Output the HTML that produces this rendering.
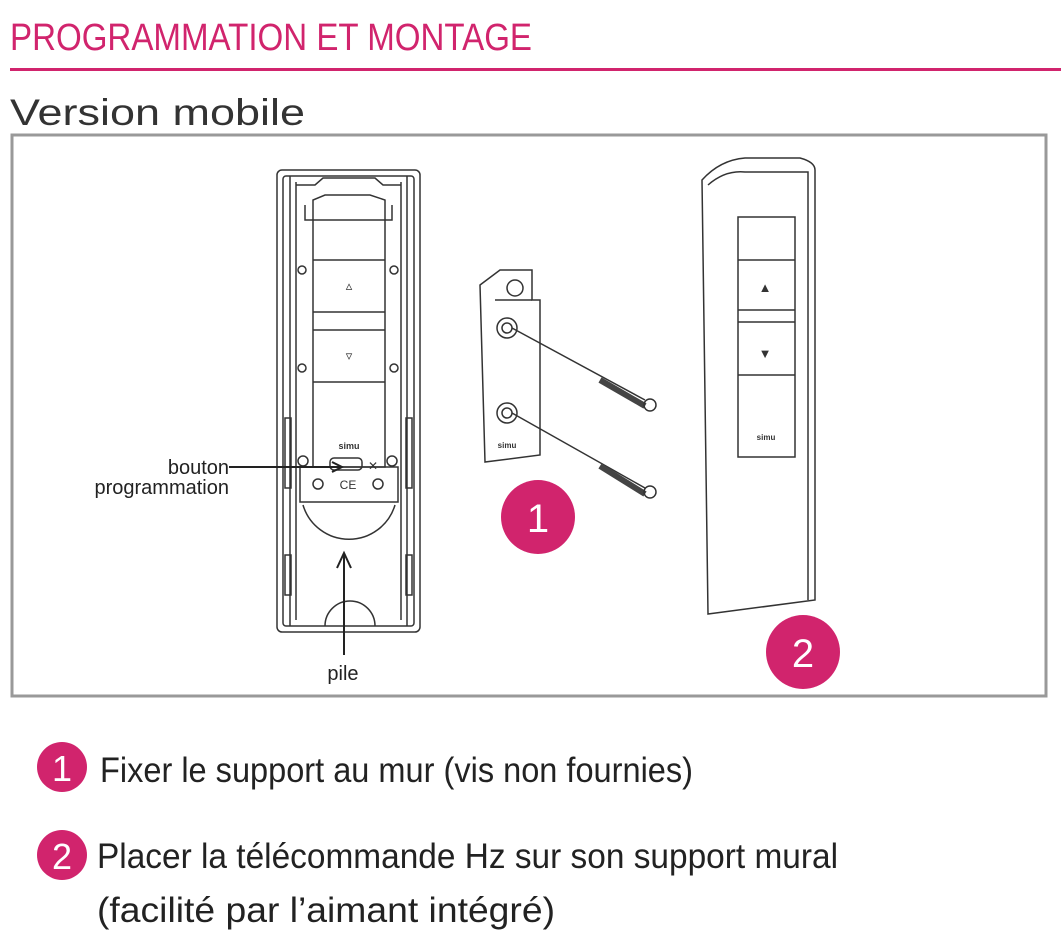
<!DOCTYPE html>
<html><head><meta charset="utf-8"><style>
html,body{margin:0;padding:0;background:#fff;}
svg{display:block;}
text{font-family:"Liberation Sans",sans-serif;}
</style></head><body>
<svg width="1061" height="941" viewBox="0 0 1061 941" xmlns="http://www.w3.org/2000/svg">
<text x="10" y="50" font-size="38" fill="#d1246d" textLength="522" lengthAdjust="spacingAndGlyphs">PROGRAMMATION ET MONTAGE</text>
<rect x="10" y="68" width="1051" height="3" fill="#d1246d"/>
<text x="10" y="125" font-size="37" fill="#333" textLength="295" lengthAdjust="spacingAndGlyphs">Version mobile</text>
<rect x="12" y="135" width="1034" height="561" fill="none" stroke="#999" stroke-width="3"/>

<!-- left remote -->
<g fill="none" stroke="#333" stroke-width="1.5">
<rect x="277" y="170" width="143" height="462" rx="5"/>
<rect x="283" y="176" width="131" height="450" rx="3"/>
<line x1="290" y1="176" x2="290" y2="626"/><line x1="407" y1="176" x2="407" y2="626"/>
<line x1="296" y1="182" x2="296" y2="620"/><line x1="401" y1="182" x2="401" y2="620"/>
<path d="M296 185 L315 185 L323 178 L375 178 L383 185 L401 185"/>
<path d="M305 205 L305 220 L313 220 L313 200 L325 195 L370 195 L385 200 L385 220 L392 220 L392 205"/>
<rect x="313" y="220" width="72" height="247"/>
<line x1="313" y1="260" x2="385" y2="260"/>
<line x1="313" y1="312" x2="385" y2="312"/><line x1="313" y1="330" x2="385" y2="330"/>
<line x1="313" y1="382" x2="385" y2="382"/>
<rect x="300" y="467" width="98" height="35"/>
<path d="M303 505 A48 48 0 0 0 395 505" />
<circle cx="302" cy="270" r="4"/><circle cx="394" cy="270" r="4"/>
<circle cx="302" cy="368" r="4"/><circle cx="394" cy="368" r="4"/>
<circle cx="303" cy="461" r="5"/><circle cx="392" cy="461" r="5"/>
<circle cx="318" cy="484" r="5"/><circle cx="378" cy="484" r="5"/>
<rect x="330" y="458" width="32" height="12" rx="4"/>
<rect x="285" y="418" width="6" height="70"/><rect x="406" y="418" width="6" height="70"/>
<rect x="285" y="555" width="6" height="40"/><rect x="406" y="555" width="6" height="40"/>
<path d="M325 626 A25 25 0 0 1 375 626"/>
</g>
<text x="349" y="290" font-size="13" text-anchor="middle" fill="#333">▵</text>
<text x="349" y="360" font-size="13" text-anchor="middle" fill="#333">▿</text>
<text x="349" y="449" font-size="9" text-anchor="middle" fill="#333" font-weight="bold">simu</text>
<text x="348" y="489" font-size="12" text-anchor="middle" fill="#333">CE</text>
<text x="373" y="470" font-size="12" text-anchor="middle" fill="#333">✕</text>
<!-- labels -->
<text x="229" y="474" font-size="20" text-anchor="end" fill="#222">bouton</text>
<text x="229" y="494" font-size="20" text-anchor="end" fill="#222">programmation</text>
<line x1="229" y1="467" x2="340" y2="467" stroke="#222" stroke-width="2"/>
<path d="M332 462 L342 467 L332 472" fill="none" stroke="#222" stroke-width="2"/>
<line x1="344" y1="655" x2="344" y2="555" stroke="#222" stroke-width="2"/>
<path d="M337 568 L344 553 L351 568" fill="none" stroke="#222" stroke-width="2"/>
<text x="343" y="680" font-size="20" text-anchor="middle" fill="#222">pile</text>

<!-- bracket -->
<g fill="none" stroke="#333" stroke-width="1.5">
<path d="M480 285 L500 270 L532 270 L532 300 L540 300 L540 455 L485 462 Z"/>
<line x1="495" y1="300" x2="532" y2="300"/>
<circle cx="515" cy="288" r="8"/>
<circle cx="507" cy="328" r="10"/><circle cx="507" cy="328" r="5"/>
<circle cx="507" cy="413" r="10"/><circle cx="507" cy="413" r="5"/>
<line x1="512" y1="328" x2="645" y2="400"/>
<line x1="512" y1="413" x2="645" y2="488"/>
<line x1="600" y1="380" x2="645" y2="406" stroke-width="6" stroke="#444"/>
<line x1="600" y1="466" x2="645" y2="494" stroke-width="6" stroke="#444"/>
<circle cx="650" cy="405" r="6"/><circle cx="650" cy="492" r="6"/>
</g>
<text x="507" y="448" font-size="8" text-anchor="middle" fill="#333" font-weight="bold">simu</text>
<circle cx="538" cy="517" r="37" fill="#d1246d"/>
<text x="538" y="532" font-size="40" text-anchor="middle" fill="#fff">1</text>

<!-- right remote -->
<g fill="none" stroke="#333" stroke-width="1.5">
<path d="M702 180 Q720 160 745 158 L800 158 Q815 162 815 170 L815 600 L708 614 Z"/>
<path d="M708 185 Q725 170 745 172 L808 172 L808 600"/>
<rect x="738" y="217" width="57" height="240"/>
<line x1="738" y1="260" x2="795" y2="260"/>
<line x1="738" y1="310" x2="795" y2="310"/>
<line x1="738" y1="322" x2="795" y2="322"/>
<line x1="738" y1="375" x2="795" y2="375"/>
</g>
<text x="765" y="292" font-size="13" text-anchor="middle" fill="#333">▲</text>
<text x="765" y="358" font-size="13" text-anchor="middle" fill="#333">▼</text>
<text x="766" y="440" font-size="8" text-anchor="middle" fill="#333" font-weight="bold">simu</text>
<circle cx="803" cy="652" r="37" fill="#d1246d"/>
<text x="803" y="667" font-size="40" text-anchor="middle" fill="#fff">2</text>

<!-- legend -->
<circle cx="62" cy="767" r="25" fill="#d1246d"/>
<text x="62" y="781" font-size="36" text-anchor="middle" fill="#fff">1</text>
<text x="100" y="782" font-size="35" fill="#222" textLength="593" lengthAdjust="spacingAndGlyphs">Fixer le support au mur (vis non fournies)</text>
<circle cx="62" cy="855" r="25" fill="#d1246d"/>
<text x="62" y="869" font-size="36" text-anchor="middle" fill="#fff">2</text>
<text x="97" y="868" font-size="35" fill="#222" textLength="741" lengthAdjust="spacingAndGlyphs">Placer la télécommande Hz sur son support mural</text>
<text x="97" y="922" font-size="35" fill="#222" textLength="458" lengthAdjust="spacingAndGlyphs">(facilité par l’aimant intégré)</text>
</svg>
</body></html>
